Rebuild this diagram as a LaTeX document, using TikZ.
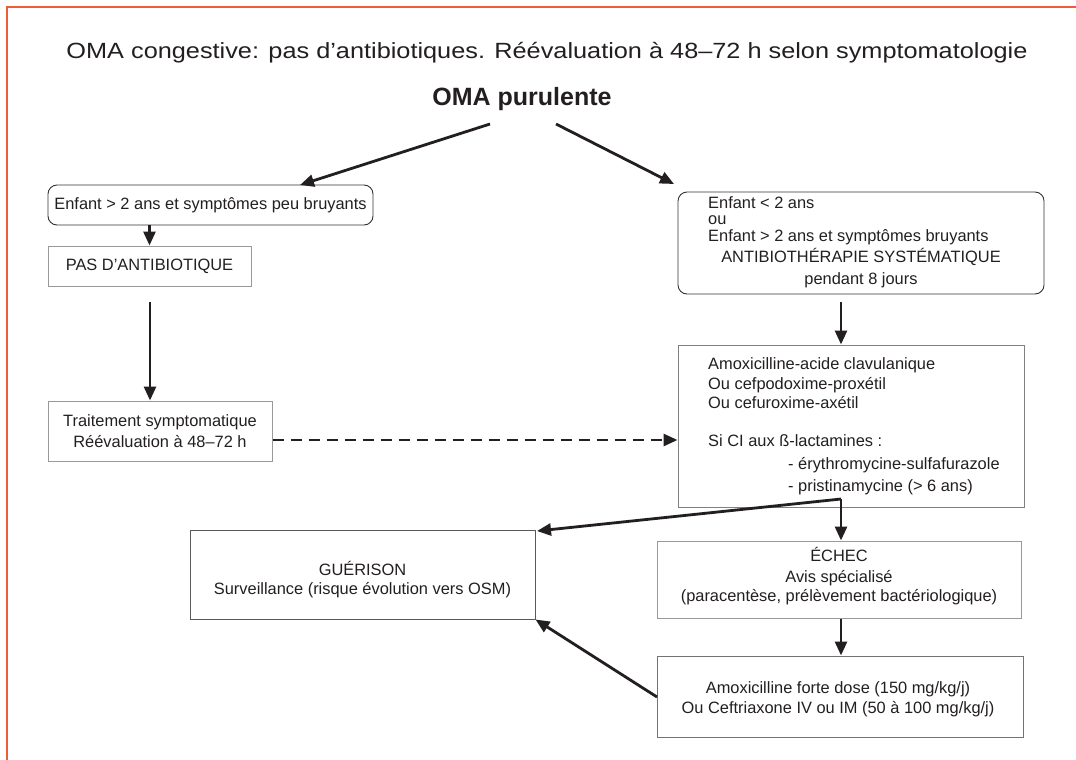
\documentclass[tikz,border=0pt]{standalone}
\usepackage{fontspec}
\setmainfont{Liberation Sans}
\usetikzlibrary{arrows.meta,calc}
\definecolor{frameorange}{HTML}{EF5B3D}
\definecolor{txt}{HTML}{231F20}
\newcommand{\fs}{\fontsize{16.4}{20.5}\selectfont}
\tikzset{
  borderline/.style={draw=frameorange, line width=2.2pt},
  rbox/.style={draw=black!80, line width=0.9pt, rounded corners=9pt, inner sep=0pt},
  gbox/.style={draw=black!40, line width=1pt, inner sep=0pt},
  dbox/.style={draw=black!65, line width=1pt, inner sep=0pt},
  lbl/.style={text=txt, font=\fs, inner sep=0pt},
  arr/.style={draw=txt, line width=2.8pt, -{Triangle[length=14pt,width=12pt]}},
  dasharr/.style={arr, dash pattern=on 11pt off 7pt},
}
\begin{document}
\begin{tikzpicture}[x=1pt,y=-1pt]
\useasboundingbox[fill=white] (0,0) rectangle (1076,760);
% frame
\draw[borderline] (7,760) -- (7,7) -- (1076,7);
% titles
\node[lbl, font=\fontsize{22}{26}\selectfont, anchor=base] (title) at (547,59) {\scalebox{1.15}[1]{OMA congestive: pas d’antibiotiques. Réévaluation à 48–72 h selon symptomatologie}};
\node[lbl, font=\fontsize{25}{30}\selectfont\bfseries, anchor=base] (oma) at (522,105) {OMA purulente};
% boxes
\node[rbox, minimum width=325pt, minimum height=40pt] (b1) at (210.5,205) {};
\node[lbl] (b1t) at (210.5,205) {Enfant > 2 ans et symptômes peu bruyants};
\node[gbox, minimum width=203pt, minimum height=40pt] (pas) at (149.5,266) {};
\node[lbl] (past) at (149.5,266) {PAS D'ANTIBIOTIQUE};
\node[gbox, minimum width=224pt, minimum height=60pt] (trt) at (160,431) {};
\node[lbl, anchor=base] (trt1) at (160,426) {Traitement symptomatique};
\node[lbl, anchor=base] (trt2) at (160,447) {Réévaluation à 48–72 h};
\node[rbox, minimum width=366pt, minimum height=102pt] (b2) at (861,243) {};
\node[lbl, anchor=base west] (b2a) at (708,208) {Enfant < 2 ans};
\node[lbl, anchor=base west] (b2b) at (708,224) {ou};
\node[lbl, anchor=base west] (b2c) at (708,241) {Enfant > 2 ans et symptômes bruyants};
\node[lbl, anchor=base] (b2d) at (861,262) {ANTIBIOTHÉRAPIE SYSTÉMATIQUE};
\node[lbl, anchor=base] (b2e) at (861,284) {pendant 8 jours};
\node[gbox, draw=black!50, minimum width=346pt, minimum height=162pt] (amox) at (851,426) {};
\node[lbl, anchor=base west] (am1) at (708,369) {Amoxicilline-acide clavulanique};
\node[lbl, anchor=base west] (am2) at (708,389) {Ou cefpodoxime-proxétil};
\node[lbl, anchor=base west] (am3) at (708,408) {Ou cefuroxime-axétil};
\node[lbl, anchor=base west] (am4) at (708,446) {Si CI aux ß-lactamines :};
\node[lbl, anchor=base west] (am5) at (788,469) {- érythromycine-sulfafurazole};
\node[lbl, anchor=base west] (am6) at (788,491) {- pristinamycine (> 6 ans)};
\node[dbox, minimum width=345pt, minimum height=89pt] (gue) at (362.5,574.5) {};
\node[lbl, anchor=base] (gue1) at (362.5,575) {GUÉRISON};
\node[lbl, anchor=base] (gue2) at (362.5,594) {Surveillance (risque évolution vers OSM)};
\node[gbox, minimum width=364pt, minimum height=77pt] (echec) at (839,579.5) {};
\node[lbl, anchor=base] (ec1) at (839,561) {ÉCHEC};
\node[lbl, anchor=base] (ec2) at (839,582) {Avis spécialisé};
\node[lbl, anchor=base] (ec3) at (839,601) {(paracentèse, prélèvement bactériologique)};
\node[dbox, draw=black!55, minimum width=366pt, minimum height=81pt] (last) at (840,696.5) {};
\node[lbl, anchor=base] (la1) at (838,693) {Amoxicilline forte dose (150 mg/kg/j)};
\node[lbl, anchor=base] (la2) at (838,713) {Ou Ceftriaxone IV ou IM (50 à 100 mg/kg/j)};
% connector coordinates
\coordinate (omaL) at (490,124);
\coordinate (omaR) at (556,124);
\coordinate (b1in) at (300,185);
\coordinate (b2in) at (674,184);
\coordinate (pasout) at (150,302);
\coordinate (b2out) at (841,302);
\coordinate (amoxout) at (841,499);
\coordinate (guein) at (537,531);
\coordinate (lastout) at (657,697);
% connectors
\draw[arr] (omaL) -- (b1in);
\draw[arr] (omaR) -- (b2in);
\draw[arr] (b1.south -| pas.north) -- (pas.north);
\draw[arr] (pasout) -- (trt.north -| pasout);
\draw[dasharr] ($(trt.east)+(0,9)$) -- ($(amox.west |- trt.east)+(0,9)$);
\draw[arr] (b2out) -- (amox.north -| b2out);
\draw[arr, -] (amoxout) -- (amox.south -| amoxout);
\draw[arr] (amox.south -| amoxout) -- (echec.north -| amoxout);
\draw[arr] (amoxout) -- (guein);
\draw[arr] (echec.south -| amoxout) -- (last.north -| amoxout);
\draw[arr] (lastout) -- (gue.south east);
\end{tikzpicture}
\end{document}
